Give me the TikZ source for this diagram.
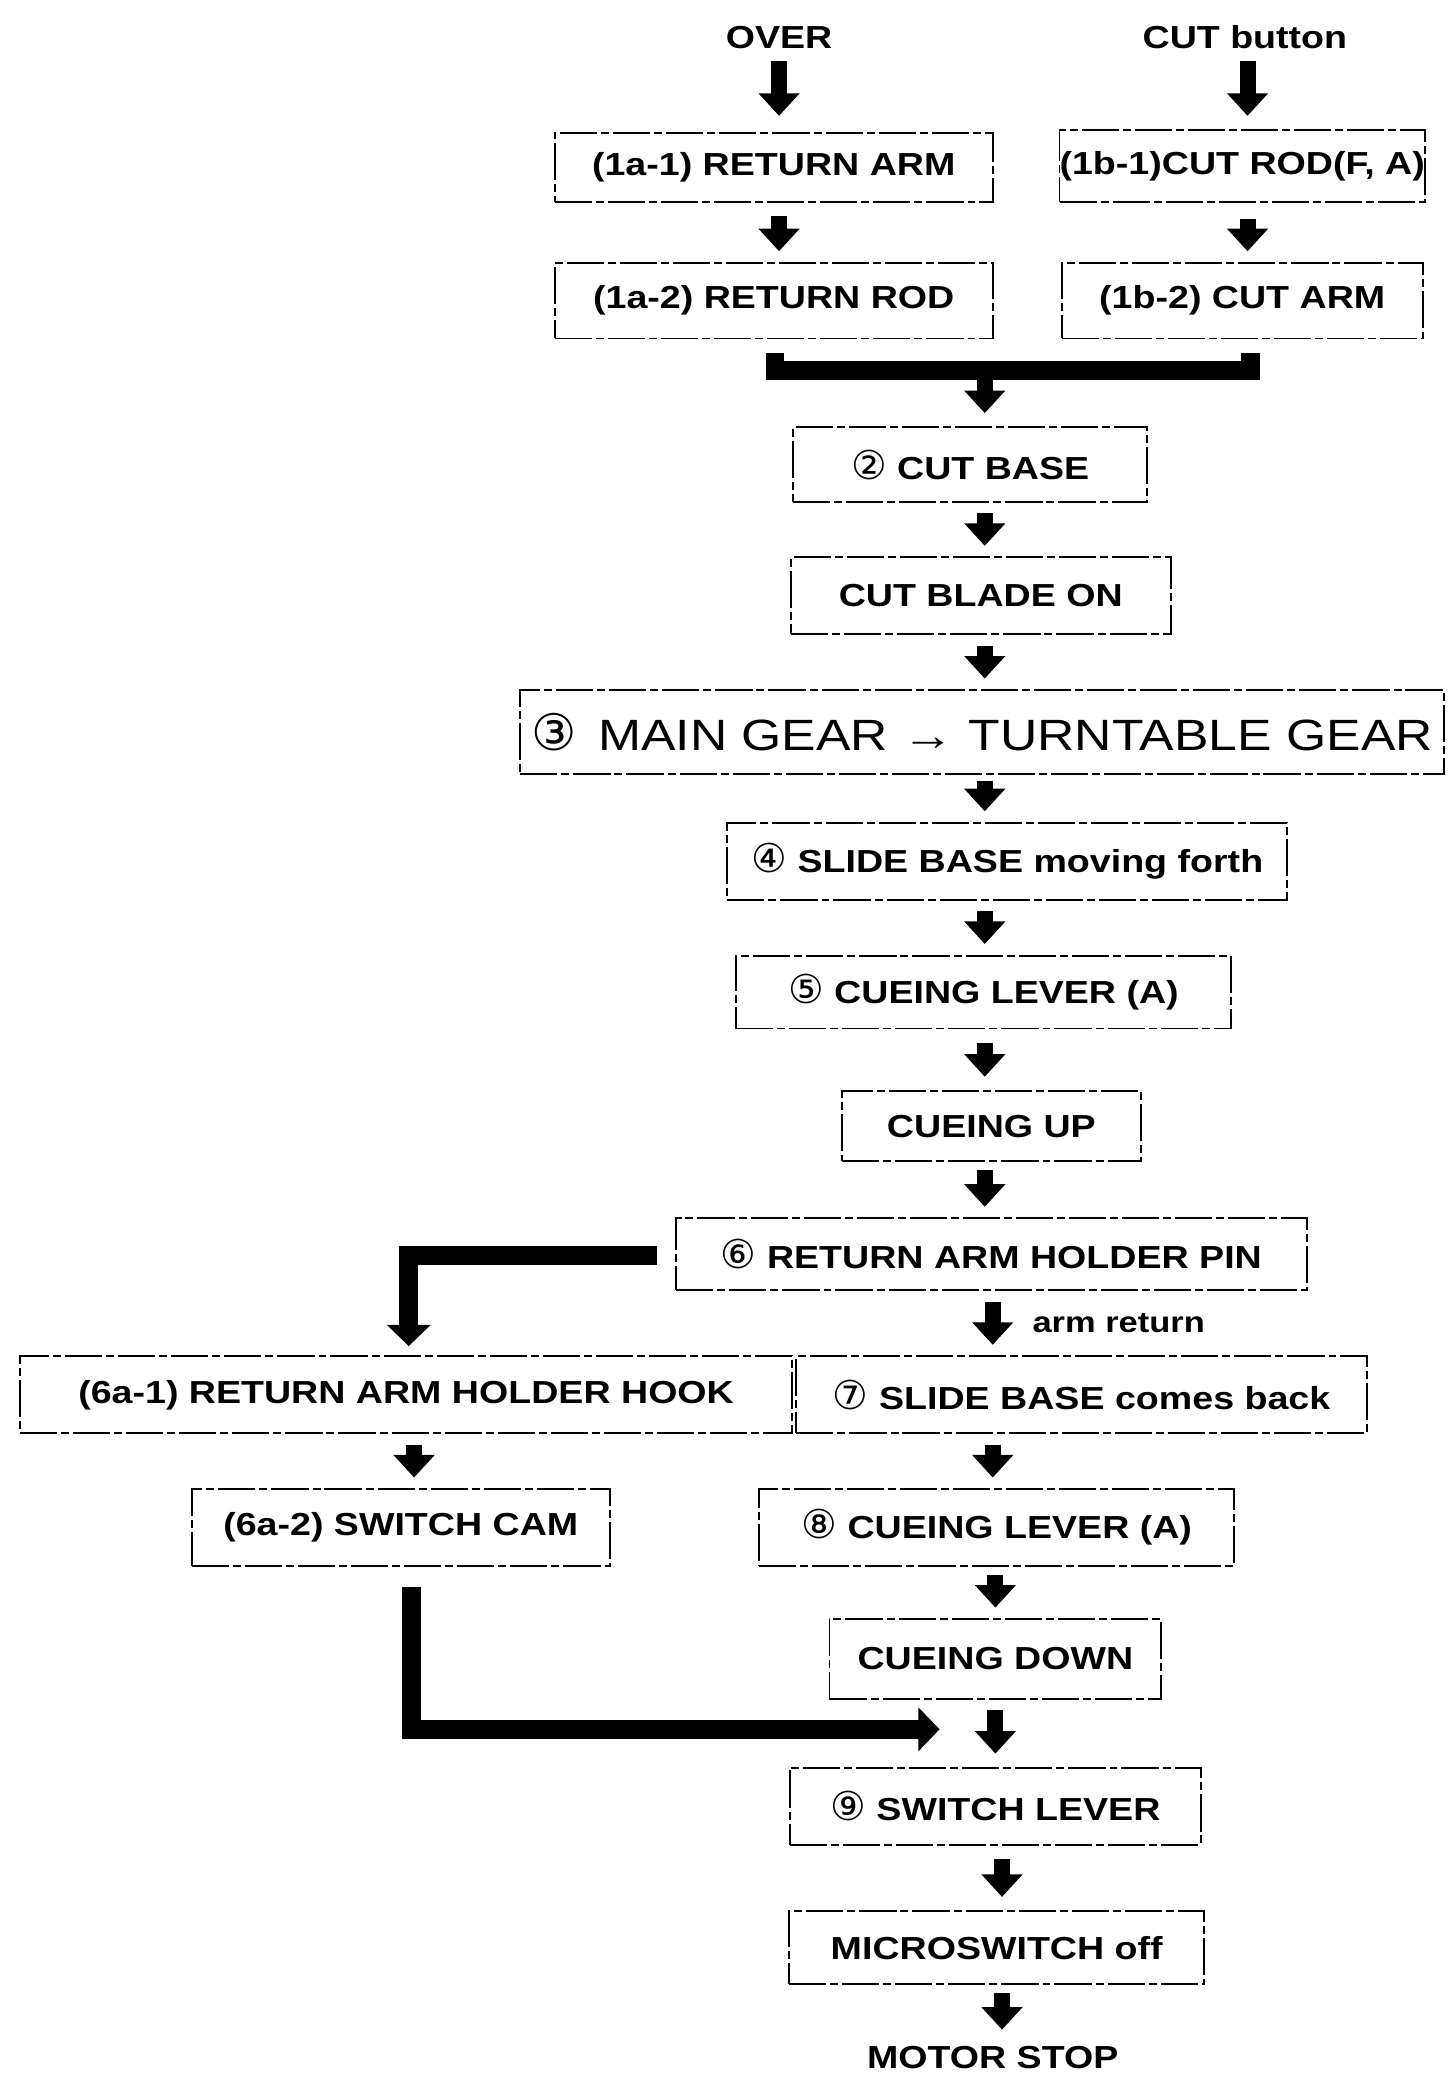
\documentclass[tikz,border=0pt]{standalone}
\usepackage{fontspec}
\setmainfont{Liberation Sans}[FakeStretch=1.18]
\newfontfamily\cnumfont{DejaVu Sans}
\usetikzlibrary{arrows.meta}
\newcommand\cn[1]{{\cnumfont\mdseries\fontsize{30}{30}\selectfont #1}}
\newcommand\lblfont{\bfseries\fontsize{24}{28}\selectfont}
\tikzset{
  bx/.style 2 args={draw, line width=1.4pt,
    dash pattern=on 28pt off 3pt on 6pt off 3pt,
    minimum width=#1, minimum height=#2, inner sep=0pt, font=\lblfont},
  lbl/.style={inner sep=0pt, font=\lblfont},
  darr/.style={line width=12pt, -{Triangle[width=30pt,length=17pt]},
    shorten <=8pt, shorten >=8pt},
  thk/.style={line width=14pt},
  tharr/.style={line width=14pt, -{Triangle[width=32pt,length=16pt]}}
}
\begin{document}
\begin{tikzpicture}[x=1pt,y=-1pt]
\useasboundingbox (0,0) rectangle (1091,1568);
% top labels
\node[lbl] (over) at (587,28) {OVER};
\node[lbl] (cutb) at (938,28) {CUT button};
% boxes
\node[bx={330pt}{52pt}] (a1) at (583,126) {(1a-1) RETURN ARM};
\node[bx={330pt}{57pt}] (a2) at (583,226.5) {(1a-2) RETURN ROD};
\node[bx={272pt}{54pt}] (b1) at (936,125) {(1b-1)CUT ROD(F, A)};
\node[bx={272pt}{57pt}] (b2) at (936,226.5) {(1b-2) CUT ARM};
\node[bx={267pt}{56pt}] (c2) at (731,350) {\cn{②} CUT BASE};
\node[bx={286pt}{58pt}] (blade) at (739,449) {CUT BLADE ON};
\node[bx={696pt}{63pt}, font=\mdseries\fontsize{33}{38}\selectfont] (gear) at (740,551.5)
  {{\cnumfont\fontsize{38}{38}\selectfont ③}\, MAIN GEAR → TURNTABLE GEAR};
\node[bx={422pt}{58pt}] (s4) at (759,649) {\cn{④} SLIDE BASE moving forth};
\node[bx={373pt}{55pt}] (s5) at (741,747.5) {\cn{⑤} CUEING LEVER (A)};
\node[bx={225pt}{53pt}] (up) at (747,848.5) {CUEING UP};
\node[bx={475pt}{54pt}] (s6) at (747,945) {\cn{⑥} RETURN ARM HOLDER PIN};
\node[bx={582pt}{58pt}] (h1) at (306,1051) {(6a-1) RETURN ARM HOLDER HOOK};
\node[bx={430pt}{58pt}] (s7) at (815,1051) {\cn{⑦} SLIDE BASE comes back};
\node[bx={315pt}{58pt}] (cam) at (302,1151) {(6a-2) SWITCH CAM};
\node[bx={358pt}{58pt}] (s8) at (751,1151) {\cn{⑧} CUEING LEVER (A)};
\node[bx={250pt}{60pt}] (down) at (750,1250) {CUEING DOWN};
\node[bx={310pt}{58pt}] (s9) at (750,1361) {\cn{⑨} SWITCH LEVER};
\node[bx={313pt}{55pt}] (micro) at (751,1467.5) {MICROSWITCH off};
\node[lbl] (motor) at (748,1550) {MOTOR STOP};
% junction points
\coordinate (mg) at (742,279);
\coordinate (jn) at (708,1303);
% arrows
\draw[darr, shorten <=9pt, shorten >=12pt] (over.south -| 587,0) -- (a1.north -| 587,0);
\draw[darr, shorten <=10pt] (a1.south -| 587,0) -- (a2.north -| 587,0);
\draw[darr, shorten <=9pt, shorten >=10pt] (cutb.south -| 940,0) -- (b1.north -| 940,0);
\draw[darr, shorten <=12pt] (b1.south -| 940,0) -- (b2.north -| 940,0);
\draw[thk] ([yshift=-10pt]a2.south -| 584,0) |- (mg) -| ([yshift=-10pt]b2.south -| 942,0);
\draw[darr, shorten <=7pt, shorten >=10pt] (mg) -- (c2.north -| mg);
\draw[darr] (c2.south -| 742,0) -- (blade.north -| 742,0);
\draw[darr] (blade.south -| 742,0) -- (gear.north -| 742,0);
\draw[darr, shorten <=5pt] (gear.south -| 742,0) -- (s4.north -| 742,0);
\draw[darr] (s4.south -| 742,0) -- (s5.north -| 742,0);
\draw[darr, shorten <=10pt, shorten >=10pt] (s5.south -| 742,0) -- (up.north -| 742,0);
\draw[darr, shorten <=6pt] (up.south -| 742,0) -- (s6.north -| 742,0);
\draw[darr] (s6.south -| 748,0) -- node[right=24pt, lbl, font=\lblfont\fontsize{22}{26}\selectfont] (ar) {arm return} (s7.north -| 748,0);
\draw[tharr, shorten <=14pt, shorten >=7pt] (s6.west |- 0,946) -| (h1.north -| 308,0);
\draw[darr] (h1.south -| 312,0) -- (cam.north -| 312,0);
\draw[darr] (s7.south -| 748,0) -- (s8.north -| 748,0);
\draw[darr, shorten <=6pt] (s8.south -| 750,0) -- (down.north -| 750,0);
\draw[tharr, shorten <=15pt] (cam.south -| 310,0) |- (jn);
\draw[darr, shorten >=10pt] (down.south -| 750,0) -- (s9.north -| 750,0);
\draw[darr, shorten <=10pt, shorten >=10pt] (s9.south -| 755,0) -- (micro.north -| 755,0);
\draw[darr, shorten <=6pt, shorten >=12pt] (micro.south -| 755,0) -- (motor.north -| 755,0);
\end{tikzpicture}
\end{document}
